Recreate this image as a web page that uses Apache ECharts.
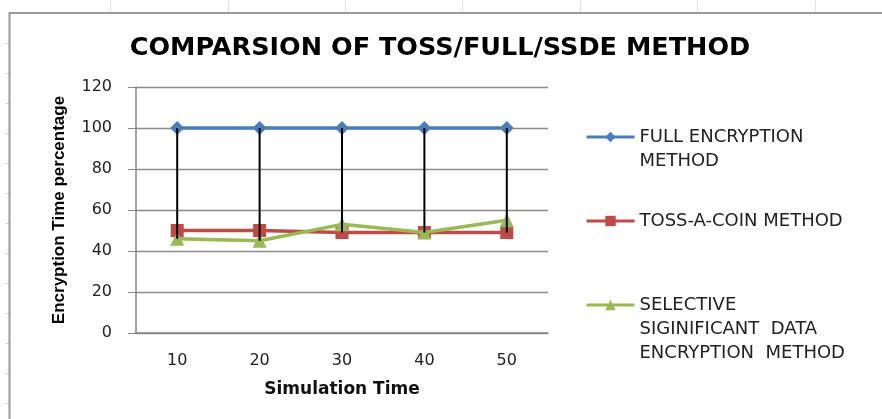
<!DOCTYPE html>
<html>
<head>
<meta charset="utf-8">
<script src="https://cdn.jsdelivr.net/npm/echarts@6/dist/echarts.min.js"></script>
<style>
html,body{margin:0;padding:0;background:#fff;}
#chart{width:882px;height:419px;}
</style>
</head>
<body>
<div id="chart"></div>
<script>
// ---- data ----
var categories = ['10', '20', '30', '40', '50'];
var fullEncryption = [100, 100, 100, 100, 100];
var tossACoin = [50, 50, 49, 49, 49];
var selectiveSignificant = [46, 45, 53, 49, 55];
var seriesNames = ['FULL ENCRYPTION METHOD', 'TOSS-A-COIN METHOD', 'SELECTIVE SIGINIFICANT DATA ENCRYPTION METHOD'];
var legendLabels = ['FULL ENCRYPTION\nMETHOD', 'TOSS-A-COIN METHOD', 'SELECTIVE\nSIGINIFICANT  DATA\nENCRYPTION  METHOD'];
var yTicks = [0, 20, 40, 60, 80, 100, 120];
var titleText = 'COMPARSION OF TOSS/FULL/SSDE METHOD';
var xAxisTitle = 'Simulation Time';
var yAxisTitle = 'Encryption Time percentage';

// high-low line data derived from the series
var highLow = categories.map(function (c, i) {
  var vals = [fullEncryption[i], tossACoin[i], selectiveSignificant[i]];
  return [i, Math.max.apply(null, vals), Math.min.apply(null, vals)];
});

var chart = echarts.init(document.getElementById('chart'), null, {renderer: 'canvas'});

var colors = ['#4a7ebb', '#be4b48', '#98b954'];
var lineH = 24;
function legendFor(idx, top) {
  var lines = legendLabels[idx].split('\n');
  // blank lines above so that the icon sits beside the first text line
  var pad = [];
  for (var k = 1; k < lines.length; k++) pad.push(' ');
  var label = pad.concat(lines).join('\n');
  return {
    show: true,
    orient: 'vertical',
    left: 585,
    top: top,
    padding: 0,
    itemWidth: 48,
    itemHeight: 13,
    itemGap: 0,
    data: [seriesNames[idx]],
    formatter: function () { return label; },
    lineStyle: {width: 3},
    textStyle: {
      fontFamily: 'DejaVu Sans',
      fontSize: 18,
      color: '#222',
      lineHeight: lineH
    }
  };
}

var gridLeft = 136, gridTop = 87, gridRight = 882 - 548, gridBottom = 419 - 333;

var graphics = [];
// spreadsheet column lines at top
[110, 228, 345, 462, 580, 697, 815].forEach(function (x) {
  graphics.push({type: 'line', shape: {x1: x + 0.5, y1: 0, x2: x + 0.5, y2: 12}, style: {stroke: '#dde3ee', lineWidth: 1}, silent: true});
});
// spreadsheet row ticks at left
for (var y = 43; y < 419; y += 30) {
  graphics.push({type: 'line', shape: {x1: 5, y1: y + 0.5, x2: 9, y2: y + 0.5}, style: {stroke: '#d0d7e5', lineWidth: 1}, silent: true});
}
// chart area border
graphics.push({type: 'rect', shape: {x: 9.5, y: 13, width: 900, height: 430}, style: {fill: null, stroke: '#9a9a9a', lineWidth: 2}, silent: true});

var option = {
  backgroundColor: '#fff',
  animation: false,
  title: {
    text: titleText,
    left: 435,
    textAlign: 'center',
    top: 30,
    textStyle: {fontFamily: 'DejaVu Sans', fontWeight: 'bold', fontSize: 25.5, color: '#000'}
  },
  legend: [legendFor(0, 101), legendFor(1, 209), legendFor(2, 245)],
  grid: {left: gridLeft, top: gridTop, right: gridRight, bottom: gridBottom, containLabel: false},
  xAxis: {
    type: 'category',
    data: categories,
    boundaryGap: true,
    axisLine: {lineStyle: {color: '#868686', width: 1.5}},
    axisTick: {show: false},
    axisLabel: {fontFamily: 'DejaVu Sans', fontSize: 16, color: '#222', margin: 20},
    name: xAxisTitle,
    nameLocation: 'middle',
    nameGap: 48,
    nameTextStyle: {fontFamily: 'DejaVu Sans', fontWeight: 'bold', fontSize: 17, color: '#111'}
  },
  yAxis: {
    type: 'value',
    min: yTicks[0],
    max: yTicks[yTicks.length - 1],
    interval: yTicks[1] - yTicks[0],
    axisLine: {show: true, lineStyle: {color: '#868686', width: 1.5}},
    axisTick: {show: true, length: 8, lineStyle: {color: '#868686'}},
    splitLine: {show: true, lineStyle: {color: '#8c8c8c', width: 1.3}},
    axisLabel: {fontFamily: 'DejaVu Sans', fontSize: 16, color: '#222', margin: 24},
    name: yAxisTitle,
    nameLocation: 'middle',
    nameRotate: 90,
    nameGap: 68,
    nameTextStyle: {fontFamily: 'Liberation Sans', fontWeight: 'bold', fontSize: 17, color: '#000'}
  },
  graphic: graphics,
  series: [
    {
      name: seriesNames[0], type: 'line', data: fullEncryption,
      symbol: 'diamond', symbolSize: 14,
      lineStyle: {color: colors[0], width: 3.5},
      itemStyle: {color: colors[0]}, z: 3
    },
    {
      name: seriesNames[1], type: 'line', data: tossACoin,
      symbol: 'rect', symbolSize: 13,
      lineStyle: {color: colors[1], width: 3.5},
      itemStyle: {color: colors[1]}, z: 3
    },
    {
      name: seriesNames[2], type: 'line', data: selectiveSignificant,
      symbol: 'triangle', symbolSize: 14,
      lineStyle: {color: colors[2], width: 3.5},
      itemStyle: {color: colors[2]}, z: 4
    },
    {
      name: 'highLow', type: 'custom', z: 10,
      data: highLow,
      encode: {x: 0, y: [1, 2]},
      renderItem: function (params, api) {
        var p1 = api.coord([api.value(0), api.value(1)]);
        var p2 = api.coord([api.value(0), api.value(2)]);
        return {type: 'line', shape: {x1: p1[0], y1: p1[1], x2: p2[0], y2: p2[1]}, style: {stroke: '#000', lineWidth: 2}};
      }
    }
  ]
};
chart.setOption(option);
</script>
</body>
</html>
